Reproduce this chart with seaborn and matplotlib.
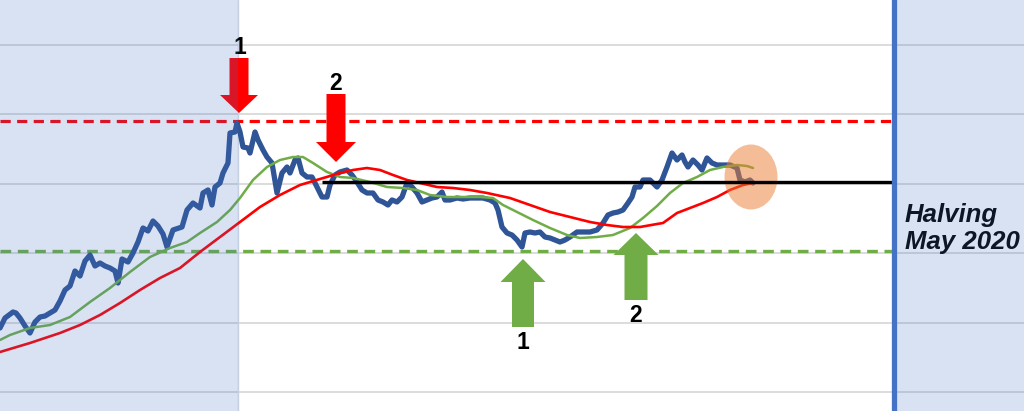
import matplotlib
matplotlib.use("Agg")
import matplotlib.pyplot as plt
import seaborn as sns
import pandas as pd
from matplotlib.patches import Polygon, Ellipse, Rectangle

# price (day index, level)
price_x = [0, 5, 13, 16, 20, 25, 30, 35, 40, 45, 50, 55, 60, 65, 70, 75, 80, 85, 90, 95,
           100, 105, 110, 115, 118, 122, 128, 133, 138, 143, 148, 153, 158, 163, 167, 173,
           182, 187, 193, 200, 203, 208, 212, 215, 220, 223, 228, 230, 235, 237, 240, 243,
           248, 250, 255, 258, 263, 267, 272, 277, 282, 287, 290, 295, 298, 302, 307, 312,
           317, 322, 327, 330, 335, 340, 347, 352, 357, 362, 367, 373, 378, 383, 388, 392,
           397, 402, 407, 412, 417, 422, 427, 432, 437, 442, 445, 450, 457, 463, 470, 477,
           483, 490, 495, 498, 502, 507, 512, 517, 522, 525, 530, 535, 540, 545, 550, 555,
           560, 565, 570, 577, 583, 590, 597, 603, 608, 613, 618, 623, 628, 632, 635, 640,
           643, 650, 657, 662, 667, 672, 677, 682, 685, 688, 693, 698, 702, 707, 712, 717,
           722, 727, 730, 737, 740, 745, 750, 753]
price_y = [65, 75, 81, 80, 75, 67, 60, 71, 76, 77, 80, 83, 92, 103, 107, 122, 117, 132, 138, 127,
           130, 127, 125, 122, 110, 134, 131, 140, 151, 165, 162, 172, 167, 159, 146, 163,
           166, 183, 190, 185, 200, 203, 188, 206, 210, 220, 230, 260, 261, 270, 261, 246,
           245, 240, 261, 253, 243, 236, 230, 200, 220, 226, 220, 233, 235, 220, 216, 216,
           206, 196, 196, 208, 218, 221, 223, 218, 211, 203, 200, 200, 193, 191, 188, 193,
           191, 196, 210, 206, 200, 191, 193, 195, 196, 201, 193, 193, 195, 194, 195, 195,
           195, 193, 190, 183, 166, 160, 158, 153, 146, 160, 161, 160, 161, 156, 155, 153,
           151, 153, 156, 161, 161, 161, 163, 170, 178, 180, 181, 183, 190, 196, 206, 206,
           213, 213, 206, 213, 226, 240, 233, 238, 231, 226, 233, 228, 223, 235, 230, 228,
           228, 228, 228, 225, 213, 211, 213, 210]

# short moving average (green)
fast_x = [0, 10, 30, 50, 70, 90, 110, 130, 150, 170, 187, 200, 217, 230, 240, 253, 267, 280,
          293, 303, 313, 327, 340, 353, 370, 387, 403, 417, 430, 447, 463, 480, 493, 503,
          517, 533, 550, 567, 580, 597, 613, 630, 643, 657, 670, 683, 697, 710, 723, 737,
          747, 753]
fast_y = [53, 58, 65, 68, 76, 91, 105, 121, 136, 145, 151, 160, 171, 183, 195, 213, 226, 233,
          236, 236, 230, 221, 216, 215, 211, 206, 205, 203, 198, 196, 196, 196, 195, 188,
          181, 173, 165, 158, 155, 156, 158, 165, 175, 187, 200, 210, 216, 223, 226, 228,
          227, 225]

# long moving average (red)
slow_x = [0, 30, 60, 80, 100, 120, 140, 160, 180, 200, 220, 240, 260, 280, 300, 320, 340,
          353, 367, 380, 393, 407, 420, 437, 453, 470, 487, 510, 530, 550, 570, 590, 607,
          623, 640, 657, 663, 677, 690, 703, 717, 730, 743, 753]
slow_y = [41, 50, 60, 68, 78, 90, 103, 115, 125, 141, 156, 171, 186, 198, 208, 214, 220,
          223, 225, 223, 218, 213, 210, 206, 205, 203, 200, 195, 188, 181, 176, 171, 168,
          166, 166, 169, 170, 180, 185, 190, 196, 203, 208, 210]

resistance = 272
pivot = 211
support = 142
grid_levels = [1, 70.4, 139.8, 209.2, 278.6, 348]
cycle_start = 238
halving_x = 894

price = pd.DataFrame({"day": price_x, "level": price_y})
fast = pd.DataFrame({"day": fast_x, "level": fast_y})
slow = pd.DataFrame({"day": slow_x, "level": slow_y})

sns.set_theme(style="white")
plt.rcParams["font.family"] = ["Liberation Sans", "DejaVu Sans"]

fig = plt.figure(figsize=(10.24, 4.11), dpi=100)
ax = fig.add_axes([0, 0, 1, 1])
ax.set_xlim(0, 1024)
ax.set_ylim(-18, 393)

for g in grid_levels:
    ax.axhline(g, color="#D9D9D9", lw=1.3, zorder=1)
ax.axvline(cycle_start, color="#C5D0E2", lw=1, zorder=1)

ax.hlines(resistance, 0, halving_x - 1, colors="#FF0000", lw=2.3,
          linestyles=(0, (3.2, 2.0)), zorder=2)
ax.hlines(support, 0, halving_x - 1, colors="#70AD47", lw=2.4,
          linestyles=(0, (3.2, 2.0)), zorder=2)

sns.lineplot(data=price, x="day", y="level", ax=ax, color="#2F5597", lw=3.8, zorder=3)
sns.lineplot(data=fast, x="day", y="level", ax=ax, color="#70AD47", lw=1.8, zorder=4)
sns.lineplot(data=slow, x="day", y="level", ax=ax, color="#FF0000", lw=1.9, zorder=4)
ax.axis("off")

ax.add_patch(Ellipse((751, 216), 53, 65, color="#ED7D31", alpha=0.5, lw=0, zorder=5))
ax.hlines(pivot, 322, halving_x - 1, colors="black", lw=2.4, zorder=6)


def block_arrow(cx, tip, tail, shaft_w, head_w, head_len, color):
    d = 1 if tail > tip else -1
    base = tip + d * head_len
    pts = [(cx, tip), (cx - head_w / 2, base), (cx - shaft_w / 2, base),
           (cx - shaft_w / 2, tail), (cx + shaft_w / 2, tail), (cx + shaft_w / 2, base),
           (cx + head_w / 2, base)]
    ax.add_patch(Polygon(pts, closed=True, color=color, lw=0, zorder=7))


block_arrow(239, 280, 335, 19, 38, 18, "#FF0000")
block_arrow(336, 231, 299, 19, 40, 20, "#FF0000")
block_arrow(523, 134, 66, 22, 45, 23, "#70AD47")
block_arrow(636, 160, 93, 23, 45, 22, "#70AD47")

lab = dict(fontsize=16.5, fontweight="bold", ha="center", va="center", color="black", zorder=7)
ax.text(240, 345, "1", **lab)
ax.text(336, 310, "2", **lab)
ax.text(523, 51, "1", **lab)
ax.text(636, 78, "2", **lab)

ax.text(905, 164.5, "Halving\nMay 2020", fontsize=18.5, fontweight="bold",
        fontstyle="italic", ha="left", va="center", color="black", zorder=9)

ax.axvline(halving_x, color="#4472C4", lw=3.8, zorder=8)

ax.add_patch(Rectangle((0, -18), cycle_start, 411, color="#4472C4", alpha=0.2, lw=0, zorder=10))
ax.add_patch(Rectangle((halving_x, -18), 1024 - halving_x, 411, color="#4472C4", alpha=0.2,
                       lw=0, zorder=10))

fig.savefig("out.png", dpi=100)
